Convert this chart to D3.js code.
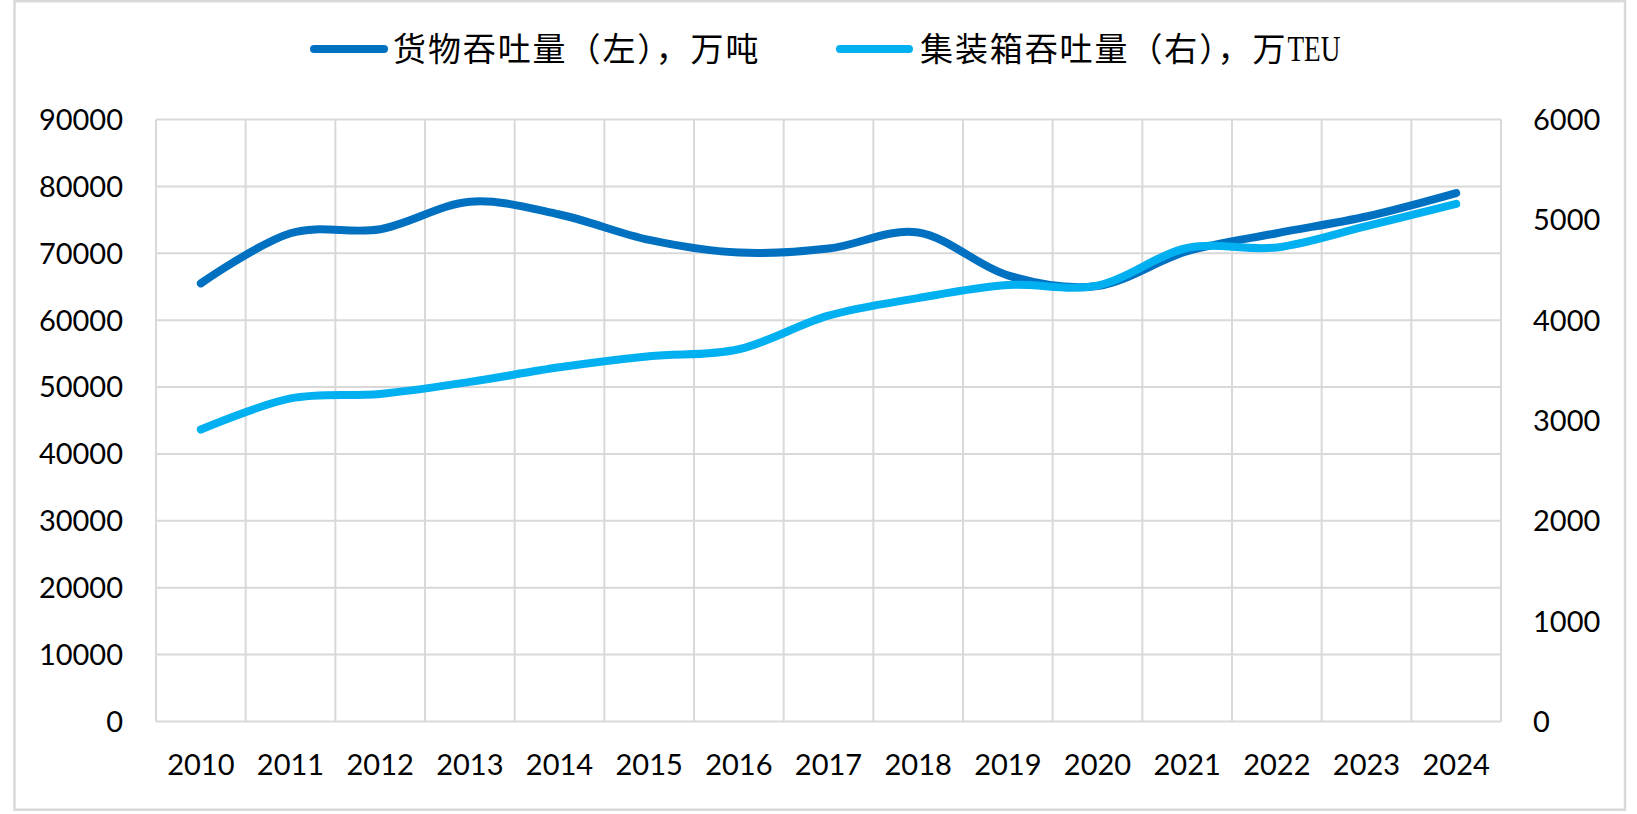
<!DOCTYPE html>
<html>
<head>
<meta charset="utf-8">
<script src="https://cdn.jsdelivr.net/npm/d3@7/dist/d3.min.js"></script>
<style>
  html, body { margin: 0; padding: 0; background: #fff; }
  svg { display: block; }
</style>
</head>
<body>
<svg id="chart" width="1637" height="814"></svg>
<script>
// ---- data ----
const years = ['2010','2011','2012','2013','2014','2015','2016','2017','2018','2019','2020','2021','2022','2023','2024'];
const cargo = [65500, 73000, 73600, 77700, 75800, 72000, 70100, 70700, 73100, 66700, 65100, 70300, 73000, 75500, 79000];
const container = [2910, 3220, 3265, 3385, 3530, 3640, 3710, 4045, 4220, 4350, 4345, 4720, 4725, 4937, 5160];
const leftTicks = [0, 10000, 20000, 30000, 40000, 50000, 60000, 70000, 80000, 90000];
const rightTicks = [0, 1000, 2000, 3000, 4000, 5000, 6000];
const seriesNames = ['货物吞吐量（左），万吨', '集装箱吞吐量（右），万'];
const seriesSuffix = ['', 'TEU'];

// ---- layout ----
const svg = d3.select('#chart');
const plot = { left: 156, right: 1501, top: 119.5, bottom: 721.5 };
const gridColor = '#D9D9D9';
const colors = ['#0070C0', '#00B0F0'];
const numFont = 'Lato, "Open Sans", sans-serif';

// outer border
svg.append('rect')
  .attr('x', 14.5).attr('y', 1.2).attr('width', 1610.5).attr('height', 808.5)
  .attr('fill', '#fff').attr('stroke', gridColor).attr('stroke-width', 2.5);

const x = d3.scaleBand().domain(years).range([plot.left, plot.right]);
const yL = d3.scaleLinear().domain([0, 90000]).range([plot.bottom, plot.top]);
const yR = d3.scaleLinear().domain([0, 6000]).range([plot.bottom, plot.top]);

// horizontal gridlines
svg.append('g').selectAll('line').data(leftTicks).join('line')
  .attr('x1', plot.left).attr('x2', plot.right)
  .attr('y1', d => yL(d)).attr('y2', d => yL(d))
  .attr('stroke', gridColor).attr('stroke-width', 2);

// vertical gridlines (category boundaries)
const bounds = years.map(y => x(y)).concat([plot.right]);
svg.append('g').selectAll('line').data(bounds).join('line')
  .attr('x1', d => d).attr('x2', d => d)
  .attr('y1', plot.top).attr('y2', plot.bottom)
  .attr('stroke', gridColor).attr('stroke-width', 2);

// left axis
const axL = svg.append('g').attr('transform', `translate(${plot.left},0)`)
  .call(d3.axisLeft(yL).tickValues(leftTicks).tickSize(0).tickPadding(33).tickFormat(d3.format('d')));
axL.select('.domain').remove();
axL.selectAll('text').attr('font-family', numFont).attr('font-size', 29).attr('fill', '#000')
  .attr('dy', '0.34em');

// right axis
const axR = svg.append('g').attr('transform', `translate(${plot.right},0)`)
  .call(d3.axisRight(yR).tickValues(rightTicks).tickSize(0).tickPadding(32).tickFormat(d3.format('d')));
axR.select('.domain').remove();
axR.selectAll('text').attr('font-family', numFont).attr('font-size', 29).attr('fill', '#000')
  .attr('dy', '0.34em');

// x axis
const axX = svg.append('g').attr('transform', `translate(0,${plot.bottom})`)
  .call(d3.axisBottom(x).tickSize(0).tickPadding(33));
axX.select('.domain').remove();
axX.selectAll('text').attr('font-family', numFont).attr('font-size', 29).attr('fill', '#000');

// lines
const cx = d => x(d) + x.bandwidth() / 2;
const lineL = d3.line().x((d, i) => cx(years[i])).y(d => yL(d)).curve(d3.curveCardinal.tension(0));
const lineR = d3.line().x((d, i) => cx(years[i])).y(d => yR(d)).curve(d3.curveCardinal.tension(0));

svg.append('path').datum(cargo).attr('d', lineL)
  .attr('fill', 'none').attr('stroke', colors[0]).attr('stroke-width', 8)
  .attr('stroke-linecap', 'round').attr('stroke-linejoin', 'round');
svg.append('path').datum(container).attr('d', lineR)
  .attr('fill', 'none').attr('stroke', colors[1]).attr('stroke-width', 8)
  .attr('stroke-linecap', 'round').attr('stroke-linejoin', 'round');

// legend
const legendItems = [
  { x1: 314, x2: 384, tx: 393 },
  { x1: 840, x2: 909, tx: 920 }
];
const legendY = 49;
legendItems.forEach((it, i) => {
  svg.append('line').attr('x1', it.x1).attr('x2', it.x2).attr('y1', legendY).attr('y2', legendY)
    .attr('stroke', colors[i]).attr('stroke-width', 8).attr('stroke-linecap', 'round');
  const t = svg.append('text').attr('x', it.tx).attr('y', legendY).attr('dy', '0.36em')
    .attr('font-family', '"Noto Sans CJK SC", sans-serif').attr('font-size', 33).attr('fill', '#000');
  t.append('tspan').attr('letter-spacing', 1.9).text(seriesNames[i]);
  if (seriesSuffix[i]) {
    t.append('tspan').attr('font-family', '"Liberation Serif", serif').attr('font-size', 36)
      .attr('textLength', 53).attr('lengthAdjust', 'spacingAndGlyphs')
      .text(seriesSuffix[i]);
  }
});
</script>
</body>
</html>
